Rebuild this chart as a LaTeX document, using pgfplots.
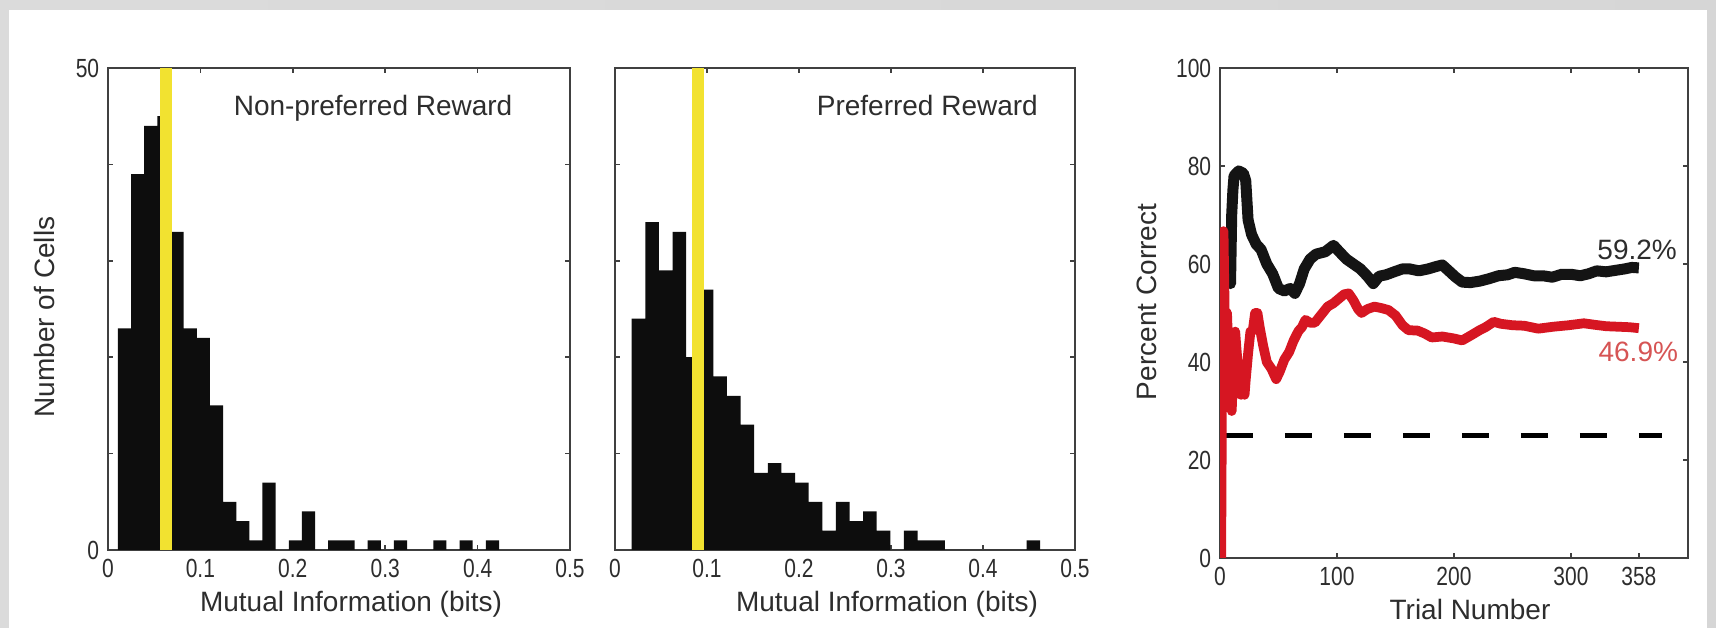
\documentclass[border=0pt]{standalone}
\usepackage{fontspec}
\setmainfont{Liberation Sans}
\usepackage{pgfplots}
\pgfplotsset{compat=1.18}

\definecolor{markyellow}{RGB}{242,226,48}
\definecolor{curvered}{RGB}{214,22,34}
\definecolor{labelred}{RGB}{214,84,84}
\definecolor{inkgray}{RGB}{45,45,45}

% narrow digits for the tick labels
\newcommand\tl[1]{\scalebox{0.8}[1]{#1}}
\newcommand\labfont{\fontsize{11.2}{13}\selectfont}

\pgfplotsset{
  panel/.style={
    scale only axis, anchor=south west,
    axis line style={black!75, line width=0.8pt},
    tick style={black!75, line width=0.7pt},
    major tick length=2pt,
    tick align=inside,
    tick pos=both,
    ticklabel style={font=\fontsize{10.5}{12}\selectfont, text=inkgray},
  }
}

% Histogram 1: left bin edges and counts (last row closes the final bin)
\pgfplotstableread{
x      n
0.0108 23
0.0250 39
0.0392 44
0.0535 45
0.0677 33
0.0819 23
0.0961 22
0.1103 15
0.1246 5
0.1388 3
0.1530 1
0.1672 7
0.1814 0
0.1957 1
0.2099 4
0.2241 0
0.2383 1
0.2525 1
0.2668 0
0.2810 1
0.2952 0
0.3094 1
0.3236 0
0.3379 0
0.3521 1
0.3663 0
0.3805 1
0.3947 0
0.4090 1
0.4232 0
}\histnonpref

% Histogram 2
\pgfplotstableread{
x      n
0.0181 24
0.0329 34
0.0477 29
0.0625 33
0.0773 20
0.0921 27
0.1069 18
0.1217 16
0.1365 13
0.1513 8
0.1661 9
0.1809 8
0.1957 7
0.2105 5
0.2253 2
0.2401 5
0.2549 3
0.2697 4
0.2845 2
0.2993 0
0.3141 2
0.3289 1
0.3437 1
0.3585 0
0.3733 0
0.3881 0
0.4029 0
0.4177 0
0.4325 0
0.4473 1
0.4621 0
}\histpref

% Running percent correct, black series
\pgfplotstableread{
t   p
8   67
9   56
10  70
11  75
12  78
16  79
20  78.5
22  77
24  69
27  66
31  64
35  63
40  60
45  58
50  55
55  54.5
60  55
64  54
68  56
72  59
77  61
82  62
90  62.5
97  63.8
102 62.5
108 61
114 60
120 59
126 57.5
131 56
136 57.5
142 57.8
150 58.5
156 59
162 59
170 58.6
178 59
185 59.5
190 59.8
196 58.5
201 57.4
207 56.3
214 56.2
222 56.5
230 57
238 57.6
246 57.8
252 58.3
260 58
268 57.6
276 57.6
284 57.3
292 57.9
300 57.9
308 57.6
315 58
322 58.6
330 58.4
338 58.7
346 59
352 59.3
358 59.2
}\blackrun

% Running percent correct, red series
\pgfplotstableread{
t   p
1   0
2   50
3   66.7
4   50
5   40
6   50
7   42.9
8   37.5
9   33.3
10  30
11  36.4
12  41.7
13  46.2
14  42.9
15  40
16  37.5
17  35.3
18  33.3
19  36.8
20  35
21  33.3
22  36.4
24  41.7
26  46.2
28  46.4
30  50
32  50
34  47
37  43.2
40  40
44  38.6
48  36.5
51  38
55  40.5
59  42
63  44.4
67  46.3
70  47.1
73  48.6
77  48
81  48
86  49.5
92  51.3
97  52
102 53
106 53.8
110 54
114 52.6
118 50.8
121 50
126 50.8
132 51.3
138 51
144 50.6
150 49.5
156 47.5
161 46.5
169 46.4
175 45.8
181 45
190 45.2
200 44.8
207 44.4
215 45.5
222 46.5
227 47.1
234 48.2
240 47.8
250 47.5
260 47.4
272 46.8
285 47.2
298 47.5
311 47.9
320 47.6
330 47.3
340 47.2
350 47.1
358 46.9
}\redrun

\begin{document}
\begin{tikzpicture}
\useasboundingbox (0,0) rectangle (686.4pt,251.2pt);
% sheet with a faint grey rim
\shade[left color=gray!28, middle color=gray!8, right color=gray!32] (0,0) rectangle (686.4pt,251.2pt);
\fill[white] (3.6pt,0) rectangle (682.8pt,247.2pt);

% ---------- Non-preferred reward ----------
\begin{axis}[panel, at={(43.2pt,31.2pt)}, width=184.8pt, height=192.8pt,
  xmin=0, xmax=0.5, ymin=0, ymax=50,
  xtick={0,0.1,0.2,0.3,0.4,0.5},
  xticklabels={\tl{0},\tl{0.1},\tl{0.2},\tl{0.3},\tl{0.4},\tl{0.5}},
  ytick={0,10,20,30,40,50},
  yticklabels={\tl{0},,,,,\tl{50}}]
\addplot[fill=black!95, draw=none, const plot mark left] table[x=x,y=n]{\histnonpref} \closedcycle;
\addplot[markyellow, line width=4.8pt] coordinates {(0.063,0) (0.063,50)};
\node[anchor=base west, font=\labfont, text=inkgray] at (axis cs:0.1266,45.1) {Non-preferred Reward};
\end{axis}

% ---------- Preferred reward ----------
\begin{axis}[panel, at={(246pt,31.2pt)}, width=184pt, height=192.8pt,
  xmin=0, xmax=0.5, ymin=0, ymax=50,
  xtick={0,0.1,0.2,0.3,0.4,0.5},
  xticklabels={\tl{0},\tl{0.1},\tl{0.2},\tl{0.3},\tl{0.4},\tl{0.5}},
  ytick={0,10,20,30,40,50},
  yticklabels={}]
\addplot[fill=black!95, draw=none, const plot mark left] table[x=x,y=n]{\histpref} \closedcycle;
\addplot[markyellow, line width=4.8pt] coordinates {(0.090,0) (0.090,50)};
\node[anchor=base west, font=\labfont, text=inkgray] at (axis cs:0.2098,45.1) {Preferred Reward};
\end{axis}

% ---------- Percent correct over trials ----------
\begin{axis}[panel, at={(488pt,28pt)}, width=187.2pt, height=196pt,
  xmin=0, xmax=400, ymin=0, ymax=100,
  xtick={0,100,200,300,358},
  xticklabels={\tl{0},\tl{100},\tl{200},\tl{300},\tl{358}},
  ytick={0,20,40,60,80,100},
  yticklabels={\tl{0},\tl{20},\tl{40},\tl{60},\tl{80},\tl{100}}]
\addplot[black, line width=1.8pt, dash pattern=on 10.8pt off 12.8pt] coordinates {(5,25) (378,25)};
\addplot[black!92, line width=4.4pt, line join=round] table[x=t,y=p]{\blackrun};
\addplot[curvered, line width=3.9pt, line join=round] table[x=t,y=p]{\redrun};
\node[anchor=east, font=\labfont, text=inkgray] at (axis cs:398,62.9) {59.2\%};
\node[anchor=east, font=\labfont, text=labelred] at (axis cs:399,42.0) {46.9\%};
\end{axis}

% axis titles
\node[rotate=90, font=\labfont, text=inkgray] at (17.6pt,124.4pt) {Number of Cells};
\node[rotate=90, font=\labfont, text=inkgray] at (458.8pt,130.4pt) {Percent Correct};
\node[anchor=base, font=\labfont, text=inkgray] at (140.4pt,6.4pt) {Mutual Information (bits)};
\node[anchor=base, font=\labfont, text=inkgray] at (354.8pt,6.4pt) {Mutual Information (bits)};
\node[anchor=base, font=\labfont, text=inkgray] at (588pt,3.2pt) {Trial Number};
\end{tikzpicture}
\end{document}
